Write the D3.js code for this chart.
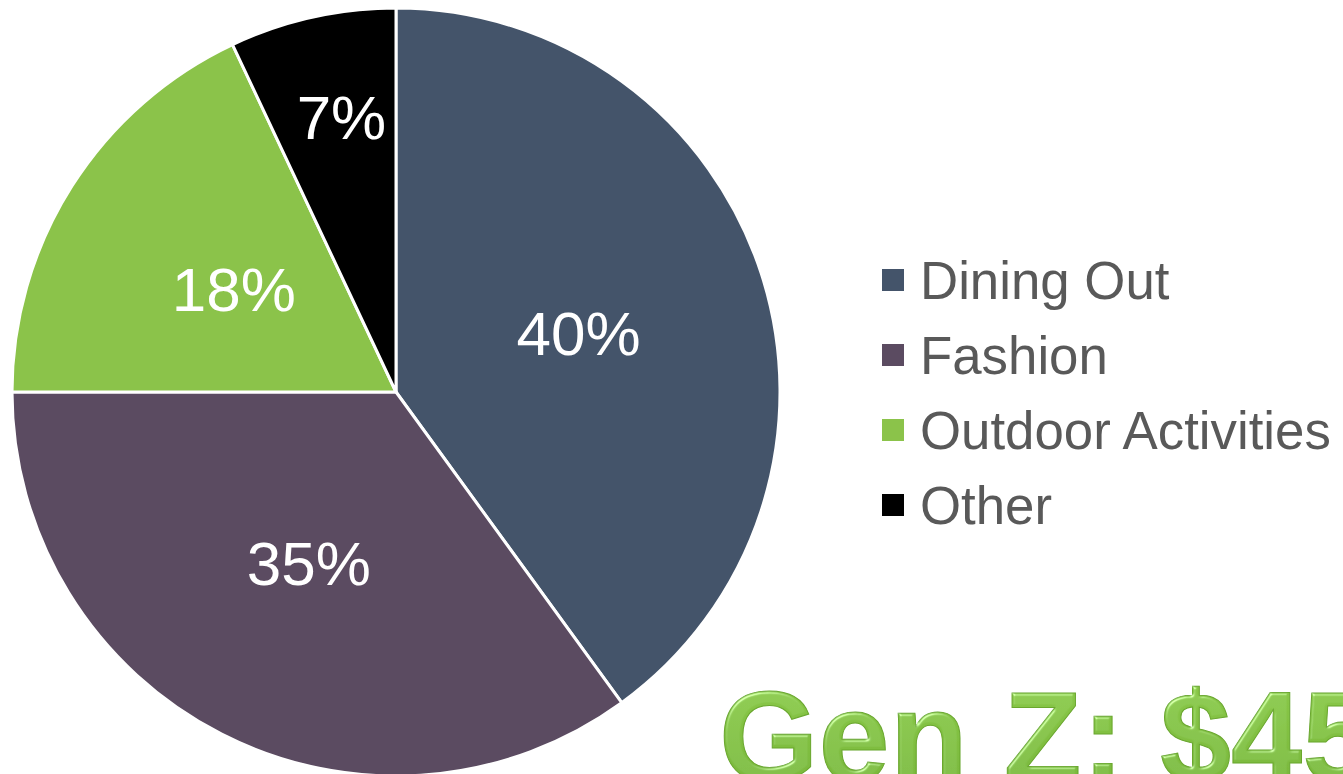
<!DOCTYPE html>
<html>
<head>
<meta charset="utf-8">
<script src="https://cdn.jsdelivr.net/npm/d3@7"></script>
<style>
  html, body { margin: 0; padding: 0; background: #fff; overflow: hidden; }
  svg { display: block; font-family: "Liberation Sans", Arial, sans-serif; }
</style>
</head>
<body>
<svg class="chart"></svg>
<script>
const categories = ["Dining Out", "Fashion", "Outdoor Activities", "Other"];
const shares = [40, 35, 18, 7];
const colors = ["#44546a", "#5b4b61", "#8bc34a", "#000000"];
const title = "Gen Z: $45";

const
  width = 1343,
  height = 774,
  cx = 396,
  cy = 392,
  radius = 384;

const svg = d3.select(".chart")
  .attr("width", width)
  .attr("height", height);

const data = categories.map((c, i) => ({name: c, value: shares[i], color: colors[i]}));

const pie = d3.pie()
  .sort(null)
  .value(d => d.value);

const arc = d3.arc()
  .innerRadius(0)
  .outerRadius(radius);

// small slices get their label pushed out toward the rim
const labelArc = d => d3.arc()
  .innerRadius(d.data.value < 10 ? radius * 0.47 : 0)
  .outerRadius(radius);

const g = svg.append("g")
  .attr("transform", `translate(${cx},${cy})`);

const arcs = pie(data);

g.selectAll("path")
  .data(arcs)
  .enter()
  .append("path")
    .attr("d", arc)
    .attr("fill", d => d.data.color)
    .attr("stroke", "#fff")
    .attr("stroke-width", 3)
    .attr("stroke-linejoin", "round");

g.selectAll("text.pct")
  .data(arcs)
  .enter()
  .append("text")
    .attr("class", "pct")
    .attr("transform", d => {
      const [x, y] = labelArc(d).centroid(d);
      // nudge the small slice label a bit toward the divider, like the original
      return `translate(${d.data.value < 10 ? x + 7 : x},${y})`;
    })
    .attr("text-anchor", "middle")
    .attr("dy", "0.36em")
    .attr("fill", "#fff")
    .attr("font-size", 62)
    .text(d => d.data.value + "%");

// legend
const legend = svg.append("g")
  .attr("transform", "translate(882, 280)");

const rows = legend.selectAll("g")
  .data(data)
  .enter()
  .append("g")
    .attr("transform", (d, i) => `translate(0, ${i * 75})`);

rows.append("rect")
  .attr("x", 0)
  .attr("y", -11)
  .attr("width", 22)
  .attr("height", 22)
  .attr("fill", d => d.color);

rows.append("text")
  .attr("x", 38)
  .attr("dy", "0.36em")
  .attr("font-size", 52.8)
  .attr("fill", "#595959")
  .text(d => d.name);

// bevelled green headline
const defs = svg.append("defs");
const grad = defs.append("linearGradient")
  .attr("id", "greenGrad")
  .attr("x1", 0).attr("y1", 0).attr("x2", 0).attr("y2", 1);
grad.append("stop").attr("offset", "0%").attr("stop-color", "#8ccb4a");
grad.append("stop").attr("offset", "100%").attr("stop-color", "#76b43a");

const filter = defs.append("filter").attr("id", "bevel");
filter.append("feGaussianBlur").attr("in", "SourceAlpha").attr("stdDeviation", 1.5).attr("result", "blur");
filter.append("feSpecularLighting")
  .attr("in", "blur")
  .attr("surfaceScale", 3)
  .attr("specularConstant", 0.6)
  .attr("specularExponent", 18)
  .attr("lighting-color", "#e6ffcc")
  .attr("result", "spec")
  .append("fePointLight").attr("x", -2000).attr("y", -4000).attr("z", 3000);
filter.append("feComposite").attr("in", "spec").attr("in2", "SourceAlpha").attr("operator", "in").attr("result", "specOut");
filter.append("feComposite").attr("in", "SourceGraphic").attr("in2", "specOut")
  .attr("operator", "arithmetic").attr("k1", 0).attr("k2", 1).attr("k3", 1).attr("k4", 0);

svg.append("text")
  .attr("x", 719)
  .attr("y", 781)
  .attr("font-size", 128)
  .attr("font-weight", "bold")
  .attr("fill", "url(#greenGrad)")
  .attr("stroke", "#6aa72f")
  .attr("stroke-width", 1)
  .attr("filter", "url(#bevel)")
  .text(title);
</script>
</body>
</html>
